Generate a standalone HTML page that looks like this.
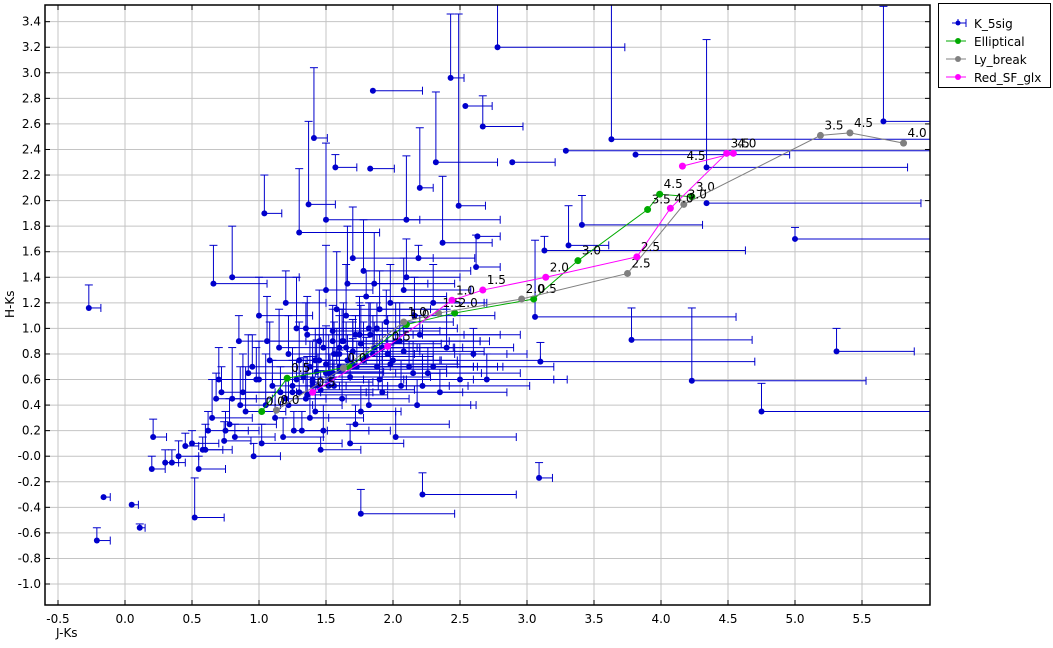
<!DOCTYPE html>
<html><head><meta charset="utf-8"><style>
body{margin:0;background:#fff;font-family:"Liberation Sans","DejaVu Sans",sans-serif}
svg text{font-family:"DejaVu Sans","Liberation Sans",sans-serif}
</style></head><body>
<svg id="c" width="1053" height="643" xmlns="http://www.w3.org/2000/svg">
<rect width="1053" height="643" fill="#fff"/>
<g id="grid"></g>
<g id="blue"></g>
<g id="tracks"></g>
<g id="axes"></g>
<text x="56" y="637" font-size="12">J-Ks</text>
<text x="0" y="0" font-size="12" transform="translate(14,318) rotate(-90)">H-Ks</text>
<g>
<rect x="938.5" y="3.5" width="112" height="84" fill="#fff" stroke="#000"/>
<g><line x1="952" y1="23" x2="966" y2="23" stroke="#0000cc"/><line x1="958" y1="19" x2="958" y2="23" stroke="#0000cc"/><line x1="966" y1="19" x2="966" y2="27" stroke="#0000cc"/><circle cx="958" cy="23" r="2.5" fill="#0000cc"/><text x="974" y="28" font-size="12">K_5sig</text></g>
<g><line x1="946" y1="41" x2="966" y2="41" stroke="#00aa00"/><circle cx="958" cy="41" r="3" fill="#00aa00"/><text x="974" y="46" font-size="12">Elliptical</text></g>
<g><line x1="946" y1="59" x2="966" y2="59" stroke="#808080"/><circle cx="958" cy="59" r="3" fill="#808080"/><text x="974" y="64" font-size="12">Ly_break</text></g>
<g><line x1="946" y1="77" x2="966" y2="77" stroke="#ff00ff"/><circle cx="958" cy="77" r="3" fill="#ff00ff"/><text x="974" y="82" font-size="12">Red_SF_glx</text></g>
</g>
</svg>
<script>
const xTicks=[-0.5,0.0,0.5,1.0,1.5,2.0,2.5,3.0,3.5,4.0,4.5,5.0,5.5];
const xTickLabels=["-0.5","0.0","0.5","1.0","1.5","2.0","2.5","3.0","3.5","4.0","4.5","5.0","5.5"];
const yTicks=[-1.0,-0.8,-0.6,-0.4,-0.2,0.0,0.2,0.4,0.6,0.8,1.0,1.2,1.4,1.6,1.8,2.0,2.2,2.4,2.6,2.8,3.0,3.2,3.4];
const yTickLabels=["-1.0","-0.8","-0.6","-0.4","-0.2","-0.0","0.2","0.4","0.6","0.8","1.0","1.2","1.4","1.6","1.8","2.0","2.2","2.4","2.6","2.8","3.0","3.2","3.4"];
// blue points: jk, hk, upper y err, right x err
const bx=[-0.27,-0.21,0.11,-0.16,0.05,0.21,0.52,2.78,1.85,2.43,2.54,2.67,3.29,3.63,3.81,5.66,4.34,4.34,5.0,5.31,4.75,4.23,3.78,3.1,3.09,1.76,2.22,3.13,3.31,3.41,3.06,1.04,1.41,1.37,1.57,2.2,2.32,1.83,2.89,2.49,2.37,2.63,2.62,2.19,
0.6,0.65,0.7,0.75,0.8,0.85,0.9,0.95,1.0,1.05,1.1,1.15,1.2,1.25,1.3,1.35,1.4,1.45,1.5,1.55,1.6,1.65,1.7,1.75,1.8,1.85,1.9,1.95,2.0,2.05,2.1,2.15,2.2,2.3,2.4,2.5,
0.62,0.72,0.82,0.92,1.02,1.12,1.22,1.32,1.42,1.52,1.62,1.72,1.82,1.92,2.02,2.12,2.22,2.35,2.6,2.7,
0.3,0.4,0.5,0.55,0.68,0.78,0.88,0.98,1.08,1.18,1.28,1.38,1.48,1.58,1.68,1.78,1.88,1.98,2.08,2.18,
0.2,0.35,0.45,0.58,0.74,0.86,0.96,1.06,1.16,1.26,1.36,1.46,1.56,1.66,1.76,1.86,1.96,2.06,2.16,2.26,
0.66,0.8,1.0,1.3,1.5,1.7,1.9,2.1,2.3,1.45,1.6,1.55,1.65,1.75,1.5,1.6,1.7,1.4,
1.2,1.25,1.3,1.33,1.36,1.4,1.43,1.46,1.5,1.53,1.56,1.6,1.63,1.66,1.7,1.73,1.76,1.8,1.83,1.86,
1.22,1.28,1.35,1.38,1.44,1.48,1.52,1.58,1.62,1.68,1.72,1.78,1.82,1.88,1.92,1.98,2.02,2.08,1.42,1.55];
const by=[1.16,-0.66,-0.56,-0.32,-0.38,0.15,-0.48,3.2,2.86,2.96,2.74,2.58,2.39,2.48,2.36,2.62,2.26,1.98,1.7,0.82,0.35,0.59,0.91,0.74,-0.17,-0.45,-0.3,1.61,1.65,1.81,1.09,1.9,2.49,1.97,2.26,2.1,2.3,2.25,2.3,1.96,1.67,1.72,1.48,1.55,
0.05,0.3,0.6,0.2,0.45,0.9,0.35,0.7,1.1,0.4,0.55,0.85,1.2,0.5,0.75,1.0,0.6,0.9,1.3,0.65,0.85,1.1,0.7,0.95,1.25,0.8,0.6,1.05,0.75,0.9,1.4,0.65,0.95,0.7,0.85,0.6,
0.2,0.5,0.15,0.65,0.1,0.3,0.8,0.2,0.35,0.55,0.45,0.25,0.4,0.5,0.15,0.7,0.55,0.5,0.8,0.6,
-0.05,0.0,0.1,-0.1,0.45,0.25,0.5,0.6,0.75,0.15,1.0,0.3,0.2,1.15,0.1,1.45,1.0,1.2,1.3,0.4,
-0.1,-0.05,0.08,0.05,0.12,0.4,0.0,0.9,0.5,0.2,0.95,0.05,0.55,1.35,0.35,1.35,0.8,0.55,1.1,0.65,
1.35,1.4,0.6,1.75,1.85,1.55,1.15,1.85,1.2,0.75,0.8,0.9,0.85,0.95,0.65,0.7,0.72,0.55,
0.45,0.55,0.5,0.62,0.48,0.58,0.66,0.52,0.72,0.6,0.8,0.68,0.9,0.75,0.82,0.7,0.88,0.78,0.95,0.85,
0.4,0.6,0.45,0.7,0.55,0.85,0.65,0.8,0.9,0.62,0.95,0.75,1.0,0.7,0.85,0.72,0.9,0.82,0.75,0.98];
const bey=[0.18,0.1,0.03,0.0,0.0,0.14,0.31,0.5,0.0,0.5,0.0,0.24,0.0,1.2,0.0,0.9,1.0,0.0,0.09,0.18,0.22,0.57,0.25,0.15,0.12,0.19,0.17,0.11,0.31,0.23,0.6,0.3,0.55,0.65,0.1,0.47,0.55,0.0,0.0,1.5,0.52,0.0,0.25,0.1,
0.2,0.3,0.25,0.15,0.4,0.2,0.35,0.25,0.3,0.4,0.2,0.3,0.25,0.35,0.3,0.2,0.3,0.4,0.35,0.2,0.3,0.4,0.35,0.25,0.2,0.3,0.35,0.25,0.2,0.3,0.3,0.25,0.15,0.2,0.3,0.2,
0.15,0.2,0.1,0.3,0.15,0.2,0.3,0.15,0.2,0.25,0.2,0.15,0.2,0.3,0.2,0.2,0.25,0.15,0.2,0.2,
0.1,0.12,0.1,0.1,0.2,0.2,0.3,0.25,0.3,0.15,0.4,0.2,0.2,0.45,0.15,0.4,0.2,0.3,0.25,0.2,
0.1,0.1,0.1,0.1,0.15,0.3,0.1,0.35,0.2,0.15,0.3,0.1,0.2,0.45,0.2,0.4,0.3,0.2,0.3,0.2,
0.3,0.4,0.3,0.5,0.6,0.4,0.3,0.5,0.3,0.2,0.3,0.25,0.2,0.3,0.2,0.25,0.2,0.2,
0.15,0.2,0.25,0.15,0.3,0.2,0.25,0.15,0.3,0.2,0.25,0.15,0.3,0.2,0.25,0.2,0.3,0.15,0.25,0.2,
0.2,0.15,0.3,0.2,0.25,0.15,0.3,0.2,0.25,0.2,0.15,0.3,0.2,0.25,0.2,0.15,0.3,0.2,0.25,0.2];
const bex=[0.09,0.1,0.04,0.05,0.05,0.1,0.22,0.95,0.37,0.1,0.2,0.3,3.0,2.5,1.15,0.5,1.5,1.6,1.5,0.58,1.5,1.3,0.9,1.6,0.1,0.7,0.7,1.5,0.3,0.9,1.5,0.13,0.1,0.2,0.16,0.1,0.46,0.18,0.32,0.2,0.37,0.17,0.18,0.42,
0.2,0.3,0.4,0.25,0.3,0.5,0.3,0.6,0.4,0.35,0.5,0.45,0.3,0.6,0.5,0.4,0.7,0.5,0.35,0.8,0.6,0.5,0.9,0.4,0.6,1.0,0.7,0.5,1.1,0.6,0.4,0.8,0.6,0.9,0.5,0.7,
0.3,0.4,0.3,0.5,0.6,0.4,0.7,0.5,0.6,0.9,0.5,0.7,0.8,0.6,0.9,0.7,0.8,0.5,0.4,0.6,
0.1,0.15,0.2,0.2,0.3,0.35,0.4,0.35,0.5,0.3,0.6,0.4,0.5,0.7,0.4,0.8,0.6,0.7,0.5,0.4,
0.1,0.1,0.1,0.15,0.2,0.3,0.2,0.4,0.3,0.25,0.5,0.3,0.4,0.6,0.3,0.6,0.5,0.5,0.6,0.4,
0.4,0.5,0.5,0.6,0.7,0.6,0.5,0.7,0.4,0.9,1.0,1.1,0.8,1.2,0.9,1.0,0.8,0.7,
0.3,0.4,0.5,0.35,0.6,0.45,0.5,0.7,0.4,0.55,0.6,0.8,0.45,0.7,0.5,0.9,0.6,0.5,0.7,0.6,
0.4,0.5,0.3,0.6,0.45,0.7,0.5,0.4,0.8,0.6,0.5,0.7,0.4,0.9,0.6,0.5,0.7,0.6,0.5,0.8];
const ellX=[1.02,1.21,1.67,2.10,2.46,3.05,3.38,3.90,3.99,4.23];
const ellY=[0.35,0.61,0.70,1.03,1.12,1.23,1.53,1.93,2.05,2.03];
const ellL=["0.0","0.5","","1.0","2.0","0.5","3.0","3.5","4.5","3.0"];
const lyX=[1.13,1.63,2.08,2.34,2.96,3.75,4.17,5.19,5.41,5.81];
const lyY=[0.36,0.69,1.05,1.12,1.23,1.43,1.97,2.51,2.53,2.45];
const lyL=["0.0","0.0","1.0","1.5","2.0","2.5","3.0","3.5","4.5","4.0"];
const sfX=[1.40,1.96,2.44,2.67,3.14,3.82,4.07,4.49,4.54,4.16];
const sfY=[0.50,0.86,1.22,1.30,1.40,1.56,1.94,2.37,2.37,2.27];
const sfL=["0.5","0.5","1.0","1.5","2.0","2.5","4.0","3.5","4.0","4.5"];

const L=45,R=930,T=5,B=605;
const sx=v=>125+v*134;
const sy=v=>456.2-v*127.8;
const NS="http://www.w3.org/2000/svg";
function mk(tag,attrs,parent){const e=document.createElementNS(NS,tag);for(const k in attrs)e.setAttribute(k,attrs[k]);parent.appendChild(e);return e;}
const grid=document.getElementById('grid'),axes=document.getElementById('axes'),blue=document.getElementById('blue'),tr=document.getElementById('tracks');
xTicks.forEach((t,i)=>{const x=sx(t);
 const g=mk('line',{x1:x,x2:x,y1:T,y2:B,stroke:'#c4c4c4'},grid);
 
 
 mk('line',{x1:x,x2:x,y1:B,y2:B-5,stroke:'#000'},axes);
 mk('line',{x1:x,x2:x,y1:T,y2:T+5,stroke:'#000'},axes);
 const tx=mk('text',{x:x,y:623,'font-size':12,'text-anchor':'middle'},axes);tx.textContent=xTickLabels[i];
 
 
});
yTicks.forEach((t,i)=>{const y=sy(t);
 const g=mk('line',{x1:L,x2:R,y1:y,y2:y,stroke:'#c4c4c4'},grid);
 
 
 mk('line',{x1:L,x2:L+5,y1:y,y2:y,stroke:'#000'},axes);
 mk('line',{x1:R,x2:R-5,y1:y,y2:y,stroke:'#000'},axes);
 const tx=mk('text',{x:41,y:y+4,'font-size':12,'text-anchor':'end'},axes);tx.textContent=yTickLabels[i];
 
 
});
mk('rect',{x:L,y:T,width:R-L,height:B-T,fill:'none',stroke:'#000','stroke-width':1.5},axes);
const clip=mk('clipPath',{id:'cp'},document.getElementById('c'));mk('rect',{x:L,y:T,width:R-L,height:B-T},clip);
blue.setAttribute('clip-path','url(#cp)');tr.setAttribute('clip-path','url(#cp)');
bx.forEach((v,i)=>{const x=sx(v),y=sy(by[i]),yt=sy(by[i]+bey[i]),xr=sx(v+bex[i]);
 const g=mk('g',{stroke:'#0000cc',fill:'#0000cc'},blue);
 
 
 if(bey[i]>0){mk('line',{x1:x,x2:x,y1:y,y2:yt},g);mk('line',{x1:x-4,x2:x+4,y1:yt,y2:yt},g);}
 mk('line',{x1:x,x2:xr,y1:y,y2:y},g);mk('line',{x1:xr,x2:xr,y1:y-4,y2:y+4},g);
 mk('circle',{cx:x,cy:y,r:3,stroke:'none'},g);
});
function track(X,Y,Lb,col,name){
 const g=mk('g',{},tr);
 
 
 mk('polyline',{points:X.map((v,i)=>sx(v)+','+sy(Y[i])).join(' '),fill:'none',stroke:col},g);
 X.forEach((v,i)=>{mk('circle',{cx:sx(v),cy:sy(Y[i]),r:3.5,fill:col},g);
  if(Lb[i]){const t=mk('text',{x:sx(v)+4,y:sy(Y[i])-6,'font-size':12,fill:'#000'},g);t.textContent=Lb[i];}});
}
track(ellX,ellY,ellL,'#00aa00','elliptical-track');
track(lyX,lyY,lyL,'#808080','ly-break-track');
track(sfX,sfY,sfL,'#ff00ff','red-sf-glx-track');
</script>
</body></html>
